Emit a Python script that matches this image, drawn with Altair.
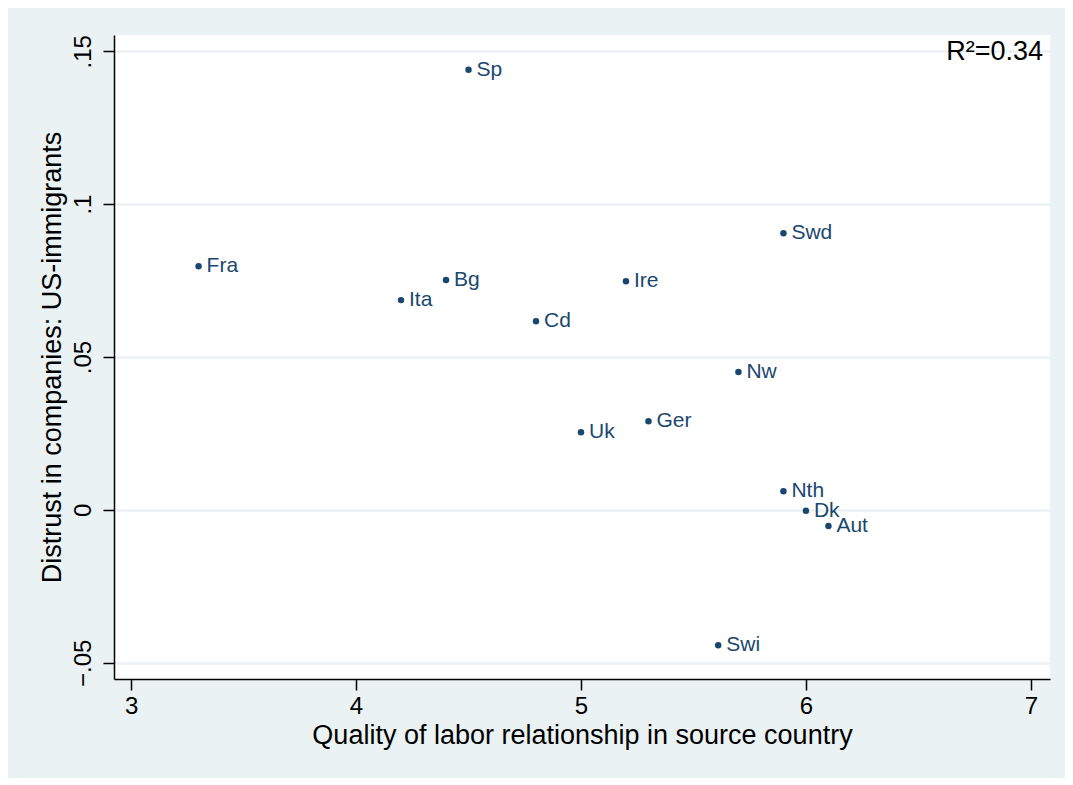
import altair as alt
import pandas as pd

countries = ["Sp", "Swd", "Fra", "Bg", "Ire", "Ita", "Cd", "Nw", "Ger", "Uk", "Nth", "Dk", "Aut", "Swi"]
quality = [4.5, 5.9, 3.3, 4.4, 5.2, 4.2, 4.8, 5.7, 5.3, 5.0, 5.9, 6.0, 6.1, 5.61]
distrust = [0.1439, 0.0905, 0.0797, 0.0752, 0.0748, 0.0686, 0.0617, 0.0451, 0.0290, 0.0254, 0.0061, -0.0003, -0.0053, -0.0443]

x_ticks = [3, 4, 5, 6, 7]
y_ticks = [-0.05, 0, 0.05, 0.1, 0.15]
r2_text = "R²=0.34"

df = pd.DataFrame({"country": countries, "quality": quality, "distrust": distrust})

FONT = "Liberation Sans"
NAVY = "#1a476f"
BG = "#eaf2f3"

x_enc = alt.X(
    "quality:Q",
    scale=alt.Scale(domain=[2.924, 7.085], nice=False, zero=False),
    axis=alt.Axis(
        values=x_ticks,
        format="d",
        title="Quality of labor relationship in source country",
        grid=False,
        tickSize=11,
        labelPadding=4,
        titlePadding=4,
        titleFontSize=27,
    ),
)
y_enc = alt.Y(
    "distrust:Q",
    scale=alt.Scale(domain=[-0.0553, 0.1553], nice=False, zero=False),
    axis=alt.Axis(
        values=y_ticks,
        title="Distrust in companies: US-immigrants",
        labelExpr="replace(format(datum.value, '.2~f'), '0.', '.')",
        labelAngle=270,
        labelAlign="center",
        labelBaseline="bottom",
        labelPadding=8,
        titlePadding=5,
        titleFontSize=27,
        grid=True,
        gridColor=BG,
        gridWidth=2.5,
        tickSize=11,
    ),
)

points = alt.Chart(df).mark_circle(size=42, color=NAVY, opacity=1).encode(x=x_enc, y=y_enc)
labels = alt.Chart(df).mark_text(
    align="left", baseline="middle", dx=8, fontSize=21, font=FONT, color=NAVY
).encode(x="quality:Q", y="distrust:Q", text="country:N")

r2 = alt.Chart(pd.DataFrame({"t": [r2_text]})).mark_text(
    align="right", baseline="middle", fontSize=27, font=FONT, color="black"
).encode(x=alt.value(929), y=alt.value(17), text="t:N")

chart = (
    alt.layer(points, labels, r2)
    .properties(
        width=936,
        height=644,
        background=BG,
        padding={"left": 106, "top": 27, "right": 15, "bottom": 99},
        autosize=alt.AutoSizeParams(type="none"),
    )
    .configure_view(fill="white", stroke=None)
    .configure_axis(
        domainColor="black",
        domainWidth=1.5,
        tickColor="black",
        tickWidth=1.5,
        labelFont=FONT,
        titleFont=FONT,
        labelFontSize=24,
        labelColor="black",
        titleColor="black",
        titleFontWeight="normal",
    )
)

chart.save("out.html", embed_options={"renderer": "svg", "actions": False})
